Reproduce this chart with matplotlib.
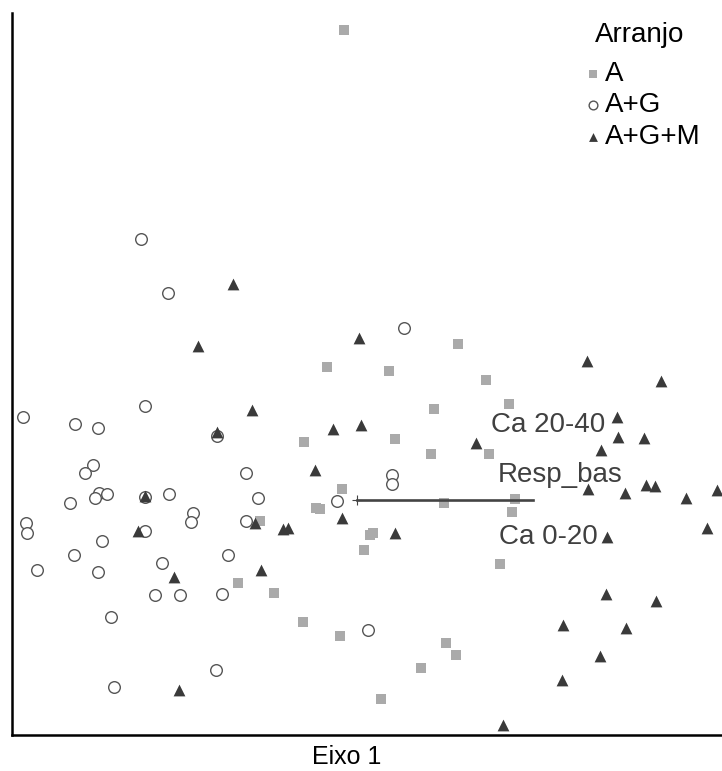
import matplotlib
matplotlib.use("Agg")
import matplotlib.pyplot as plt

plt.rcParams['font.family'] = ['Liberation Sans', 'DejaVu Sans']

# site scores on the first two axes, by arrangement
a_x = [-0.13, -0.30, 0.32, 1.01, 1.29, 0.77, -0.53, 0.38, 0.74, 1.52,
       1.32, -0.15, -0.41, -0.37, 0.87, 1.58, 1.55, 0.13, 0.16, 0.07,
       1.43, -0.97, -1.19, -0.83, -0.54, -0.17, 0.89, 0.99, 0.64, 0.24]
a_y = [4.70, 1.33, 1.29, 1.56, 1.20, 0.91, 0.58, 0.61, 0.46, 0.96,
       0.46, 0.11, -0.08, -0.09, -0.03, 0.01, -0.12, -0.35, -0.33, -0.50,
       -0.64, -0.21, -0.83, -0.93, -1.22, -1.36, -1.43, -1.55, -1.68, -1.99]

ag_x = [-2.16, -1.89, 0.47, -3.34, -2.82, -2.59, -2.12, -2.64, -2.72, -2.58,
        -2.50, -2.62, -2.87, -2.12, -1.88, -3.31, -3.30, -2.12, -2.55, -2.83,
        -3.20, -2.59, -1.95, -2.02, -1.77, -2.46, -1.40, -1.11, -0.99, -1.64,
        -1.66, -1.11, -1.29, -1.35, -0.20, 0.35, 0.35, 0.11, -1.41, -2.43]
ag_y = [2.61, 2.07, 1.72, 0.83, 0.76, 0.72, 0.94, 0.35, 0.27, 0.07,
        0.06, 0.02, -0.03, 0.03, 0.06, -0.23, -0.33, -0.31, -0.41, -0.55,
        -0.70, -0.72, -0.63, -0.95, -0.95, -1.17, 0.64, 0.27, 0.02, -0.13,
        -0.22, -0.21, -0.55, -0.94, -0.01, 0.25, 0.16, -1.30, -1.70, -1.87]

agm_x = [-1.24, -1.59, 0.02, -1.05, -1.40, -0.24, 0.04, -0.42, -2.12, -2.19,
         -0.15, -1.02, -0.74, -0.69, -0.96, -1.83, 0.38, -1.78, 1.46, 2.30,
         3.04, 1.19, 2.60, 2.61, 2.87, 2.44, 2.31, 2.68, 2.89, 2.98,
         3.29, 3.60, 3.50, 2.50, 2.49, 2.99, 2.06, 2.69, 2.43, 2.05]
agm_y = [2.16, 1.54, 1.62, 0.90, 0.68, 0.71, 0.75, 0.30, 0.04, -0.31,
         -0.18, -0.23, -0.29, -0.28, -0.70, -0.77, -0.33, -1.90, -2.25, 1.39,
         1.19, 0.57, 0.83, 0.63, 0.62, 0.50, 0.11, 0.07, 0.15, 0.14,
         0.02, 0.10, -0.28, -0.37, -0.94, -1.01, -1.25, -1.28, -1.56, -1.80]

# fitted variable vector and label positions
vec_x, vec_y = 1.76, 0.0
var_labels = ['Ca 20-40', 'Resp_bas', 'Ca 0-20']
var_lab_x = [1.91, 2.03, 1.91]
var_lab_y = [0.75, 0.25, -0.37]

fig = plt.figure(figsize=(7.22, 7.71), dpi=100)
ax = fig.add_axes([12 / 722, 36 / 771, 710 / 722, 722 / 771])

ax.scatter(a_x, a_y, marker='s', s=52, color='#aaaaaa', linewidths=0, label='A', zorder=3)
ax.scatter(ag_x, ag_y, marker='o', s=70, facecolors='white', edgecolors='#555555',
           linewidths=1.0, label='A+G', zorder=3)
ax.scatter(agm_x, agm_y, marker='^', s=72, color='#3a3a3a', linewidths=0,
           label='A+G+M', zorder=4)

ax.plot([0, vec_x], [0, vec_y], color='#444444', lw=1.9, zorder=5)
ax.plot([0], [0], marker='+', ms=7, mew=0.8, color='#444444', zorder=5)
for lab, lx, ly in zip(var_labels, var_lab_x, var_lab_y):
    ax.text(lx, ly, lab, fontsize=20, color='#404040', ha='center', va='center', zorder=6)

ax.set_xlim(-3.45, 3.65)
ax.set_ylim(-2.35, 4.87)
ax.set_xticks([])
ax.set_yticks([])
for side in ['top', 'right']:
    ax.spines[side].set_visible(False)
for side in ['left', 'bottom']:
    ax.spines[side].set_linewidth(1.8)
    ax.spines[side].set_color('black')

ax.set_xlabel('Eixo 1', fontsize=18, va='center')
ax.xaxis.set_label_coords(0.472, -0.031)

# legend title drawn on its own so it sits a bit apart from the entries
fig.text(640 / 722, 1 - 35 / 771, 'Arranjo', fontsize=20, ha='center', va='center')
leg = ax.legend(loc='upper right', bbox_to_anchor=(0.99, 0.953),
                frameon=False, fontsize=20, markerscale=0.75,
                handlelength=0.4, handletextpad=0.25, labelspacing=0.2,
                borderaxespad=0.1)

fig.savefig('out.png', dpi=100)
